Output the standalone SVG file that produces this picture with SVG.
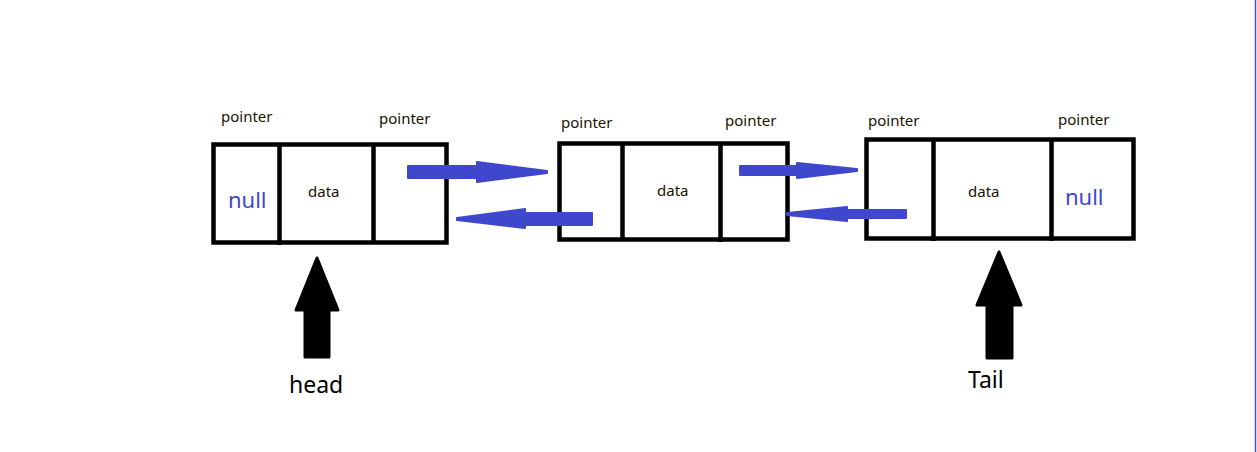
<svg xmlns="http://www.w3.org/2000/svg" width="1257" height="452" viewBox="0 0 1257 452">
<style>
.box{fill:#fff;stroke:#000;stroke-width:4.5}
.div{stroke:#000;stroke-width:4.5}
.lbl{font-family:"Noto Sans","Open Sans",sans-serif;font-size:15px;fill:#1a1200}
.null{font-family:"Noto Sans","Open Sans",sans-serif;font-size:22px;fill:#3f48cc}
.cap{font-family:"Noto Sans","Open Sans",sans-serif;font-size:23px;fill:#000}
.ptr{fill:#3f48cc;stroke:#3f48cc;stroke-width:2;stroke-linejoin:round}
.big{fill:#000;stroke:#000;stroke-width:3;stroke-linejoin:round}
</style>
<rect x="0" y="0" width="1257" height="452" fill="#fff"/>
<line x1="1255.5" y1="0" x2="1255.5" y2="452" stroke="#4a4ad0" stroke-width="1.5"/>
<g id="node1">
<rect class="box" x="213.5" y="144.5" width="233" height="98"/>
<line class="div" x1="279.5" y1="144" x2="279.5" y2="245"/>
<line class="div" x1="373.5" y1="144" x2="373.5" y2="243"/>
<text class="lbl" x="221" y="122">pointer</text>
<text class="lbl" x="379" y="124">pointer</text>
<text class="null" x="228" y="208">null</text>
<text class="lbl" x="308" y="197">data</text>
</g>
<g id="node2">
<rect class="box" x="559.5" y="143.5" width="228" height="96"/>
<line class="div" x1="622.5" y1="143" x2="622.5" y2="240"/>
<line class="div" x1="720.5" y1="143" x2="720.5" y2="242"/>
<text class="lbl" x="561" y="128">pointer</text>
<text class="lbl" x="725" y="126">pointer</text>
<text class="lbl" x="657" y="196">data</text>
</g>
<g id="node3">
<rect class="box" x="866.5" y="139.5" width="267" height="99"/>
<line class="div" x1="933.5" y1="139" x2="933.5" y2="241"/>
<line class="div" x1="1051.5" y1="139" x2="1051.5" y2="241"/>
<text class="lbl" x="868" y="126">pointer</text>
<text class="lbl" x="1058" y="125">pointer</text>
<text class="lbl" x="968" y="197">data</text>
<text class="null" x="1065" y="205">null</text>
</g>
<g id="connectors">
<polygon class="ptr" points="408,166 477,166 477,162 547,171 547,173 477,182 477,178 408,178"/>
<polygon class="ptr" points="592,213 525,213 525,209 457,218 457,220 525,228 525,225 592,225"/>
<polygon class="ptr" points="740,166 797,166 797,163 857,169 857,171 797,178 797,175 740,175"/>
<polygon class="ptr" points="906,210 847,210 847,207 787,213 787,215 847,221 847,218 906,218"/>
</g>
<g id="head">
<polygon class="big" points="317,258 338,310 329,310 329,357 305,357 305,310 296,310"/>
<text class="cap" x="289" y="393">head</text>
</g>
<g id="tail">
<polygon class="big" points="999,252 1021,305 1012,305 1012,358 987,358 987,305 977,305"/>
<text class="cap" x="968" y="388" font-size="24">Tail</text>
</g>
</svg>
